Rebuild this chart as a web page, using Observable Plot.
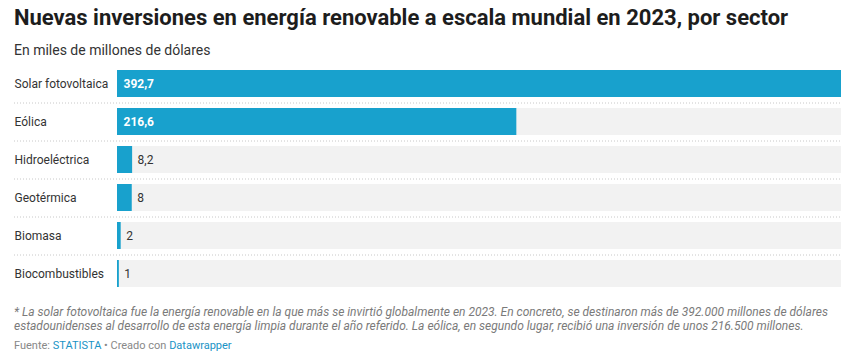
<!DOCTYPE html>
<html><head><meta charset="utf-8">
<script src="https://cdn.jsdelivr.net/npm/d3@7"></script>
<script src="https://cdn.jsdelivr.net/npm/@observablehq/plot@0.6"></script>
<style>
body{margin:0;background:#fff;font-family:Roboto,sans-serif;}
#wrap{position:relative;width:855px;height:360px;overflow:hidden;}
.title{position:absolute;left:14px;top:5px;font-size:22px;font-weight:700;color:#1d1d1d;line-height:26px;white-space:nowrap;}
.sub{position:absolute;left:14px;top:41px;font-size:14px;color:#333;line-height:18px;white-space:nowrap;}
#chart{position:absolute;left:0;top:60px;}
.notes{position:absolute;left:14px;top:305px;font-size:12px;font-style:italic;color:#7a7a7a;line-height:14px;white-space:nowrap;}
.src{position:absolute;left:14px;top:339px;font-size:11px;color:#888;line-height:14px;white-space:nowrap;}
.src a{color:#1a93c6;text-decoration:none;}
</style>
</head><body>
<div id="wrap">
  <div class="title">Nuevas inversiones en energía renovable a escala mundial en 2023, por sector</div>
  <div class="sub">En miles de millones de dólares</div>
  <div id="chart"></div>
  <div class="notes">* La solar fotovoltaica fue la energía renovable en la que más se invirtió globalmente en 2023. En concreto, se destinaron más de 392.000 millones de dólares<br>estadounidenses al desarrollo de esta energía limpia durante el año referido. La eólica, en segundo lugar, recibió una inversión de unos 216.500 millones.</div>
  <div class="src">Fuente: <a>STATISTA</a> • Creado con <a>Datawrapper</a></div>
</div>
<script>
const categories = ["Solar fotovoltaica","Eólica","Hidroeléctrica","Geotérmica","Biomasa","Biocombustibles"];
const values = [392.7, 216.6, 8.2, 8, 2, 1];

const data = categories.map((c, i) => ({cat: c, value: values[i]}));
const maxV = d3.max(values);
const fmt = d => String(d.value).replace(".", ",");
const inside = data.filter(d => d.value > 50);
const outside = data.filter(d => d.value <= 50);

const chart = Plot.plot({
  width: 855, height: 235,
  marginLeft: 14, marginRight: 14, marginTop: 10, marginBottom: 8,
  style: {fontFamily: "Roboto, sans-serif", fontSize: "12px", background: "transparent"},
  x: {domain: [0, maxV], range: [117, 841], axis: null},
  y: {domain: categories, range: [10, 227], paddingInner: 11/38, paddingOuter: 0, axis: null},
  marks: [
    Plot.ruleY(categories.slice(0, -1), {y: d => d, dy: 19, stroke: "#c8c8c8", strokeDasharray: "1,2", strokeWidth: 1}),
    Plot.barX(data, {y: "cat", x: () => maxV, fill: "#f2f2f2"}),
    Plot.barX(data, {y: "cat", x: "value", fill: "#18a1cd"}),
    Plot.text(data, {y: "cat", text: "cat", frameAnchor: "left", textAnchor: "start", fill: "#333", fontSize: 12}),
    Plot.text(inside, {x: 0, y: "cat", text: fmt, textAnchor: "start", dx: 6, fill: "#fff", fontWeight: "bold", fontSize: 12}),
    Plot.text(outside, {x: "value", y: "cat", text: fmt, textAnchor: "start", dx: 5, fill: "#333", fontSize: 12})
  ]
});
document.getElementById("chart").appendChild(chart);
</script>
</body></html>
